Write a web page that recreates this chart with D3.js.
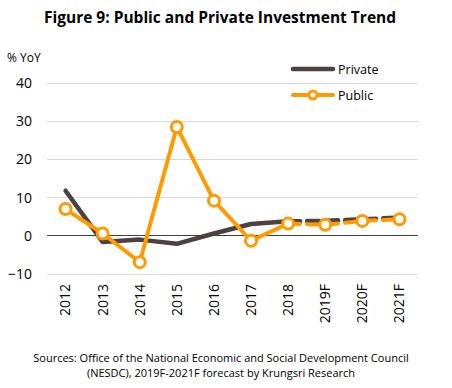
<!DOCTYPE html>
<html><head><meta charset="utf-8">
<script src="https://cdn.jsdelivr.net/npm/d3@7"></script>
<style>body{margin:0;background:#fff;} svg{display:block;}</style>
</head><body>
<svg id="c" width="452" height="388"></svg>
<script>
const categories = ["2012","2013","2014","2015","2016","2017","2018","2019F","2020F","2021F"];
const privateVals = [11.8,-1.6,-1.0,-2.1,0.6,3.1,3.8,3.9,4.3,4.8];
const publicVals = [7.0,0.6,-6.9,28.5,9.2,-1.3,3.2,2.9,3.9,4.3];
const yTicks = [-10,0,10,20,30,40];
const forecastStart = 6; // index of 2018, dashed from here

const svg = d3.select("#c");
const font = "'Open Sans', 'Liberation Sans', sans-serif";
const x = d3.scaleBand().domain(categories).range([47,418]);
const y = d3.scaleLinear().domain([-10,40]).range([274,83]);
const cx = d => x(d) + x.bandwidth()/2;

svg.append("text").attr("x",220).attr("y",23).attr("text-anchor","middle")
  .attr("font-family",font).attr("font-weight","bold").attr("font-size",15.5).attr("fill","#000")
  .text("Figure 9: Public and Private Investment Trend");

svg.append("text").attr("x",7).attr("y",62).attr("font-family",font).attr("font-size",12).attr("fill","#000").text("% YoY");

// gridlines
svg.append("g").selectAll("line").data(yTicks).join("line")
  .attr("x1",47).attr("x2",418).attr("y1",d=>y(d)).attr("y2",d=>y(d))
  .attr("stroke",d=>d===0?"#404040":"#d9d9d9").attr("stroke-width",1)
  .attr("shape-rendering","crispEdges");

const yAxis = svg.append("g").attr("transform","translate(47,0)")
  .call(d3.axisLeft(y).tickValues(yTicks).tickSize(0).tickPadding(15));
yAxis.select(".domain").remove();
yAxis.selectAll("text").attr("font-family",font).attr("font-size",14).attr("fill","#000");

const xAxis = svg.append("g").attr("transform","translate(0,282)")
  .call(d3.axisBottom(x).tickSize(0));
xAxis.select(".domain").remove();
xAxis.selectAll(".tick text").attr("font-family",font).attr("font-size",14).attr("fill","#000")
  .attr("text-anchor","end").attr("transform","rotate(-90)").attr("x",-2).attr("y",0).attr("dx",0).attr("dy","0.35em");

function drawSeries(vals, color, w){
  const pts = categories.map((c,i)=>({c,v:vals[i],i}));
  const line = d3.line().x(d=>cx(d.c)).y(d=>y(d.v));
  svg.append("path").datum(pts.filter(d=>d.i<=forecastStart)).attr("d",line)
    .attr("fill","none").attr("stroke",color).attr("stroke-width",w).attr("stroke-linejoin","round").attr("stroke-linecap","round");
  svg.append("path").datum(pts.filter(d=>d.i>=forecastStart)).attr("d",line)
    .attr("fill","none").attr("stroke",color).attr("stroke-width",w).attr("stroke-dasharray","12,7").attr("stroke-linecap","round");
  return pts;
}
const privColor = "#4e4141", pubColor = "#ff9a00";
drawSeries(privateVals, privColor, 4.5);
const pubPts = drawSeries(publicVals, pubColor, 4);
svg.append("g").selectAll("circle").data(pubPts).join("circle")
  .attr("cx",d=>cx(d.c)).attr("cy",d=>y(d.v)).attr("r",5.5)
  .attr("fill","#fff").attr("stroke",pubColor).attr("stroke-width",3);

// legend
const lg = svg.append("g");
lg.append("line").attr("x1",293).attr("x2",333).attr("y1",69).attr("y2",69).attr("stroke",privColor).attr("stroke-width",4.5).attr("stroke-linecap","round");
lg.append("text").attr("x",338).attr("y",74).attr("font-family",font).attr("font-size",12.5).attr("fill","#000").text("Private");
lg.append("line").attr("x1",293).attr("x2",333).attr("y1",95).attr("y2",95).attr("stroke",pubColor).attr("stroke-width",4).attr("stroke-linecap","round");
lg.append("circle").attr("cx",313).attr("cy",95).attr("r",4).attr("fill","#fff").attr("stroke",pubColor).attr("stroke-width",3);
lg.append("text").attr("x",338).attr("y",100).attr("font-family",font).attr("font-size",12.5).attr("fill","#000").text("Public");

const src = svg.append("text").attr("text-anchor","middle").attr("font-family",font).attr("font-size",11).attr("fill","#000");
src.append("tspan").attr("x",221).attr("y",362).text("Sources: Office of the National Economic and Social Development Council");
src.append("tspan").attr("x",221).attr("y",377).text("(NESDC),  2019F-2021F forecast by Krungsri Research");
</script>
</body></html>
